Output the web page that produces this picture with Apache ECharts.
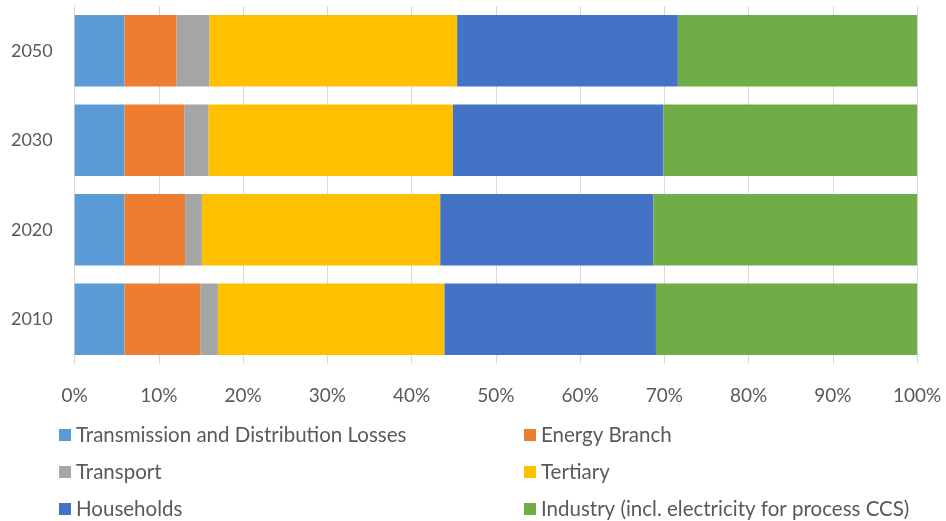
<!DOCTYPE html>
<html>
<head>
<meta charset="utf-8">
<script src="https://cdn.jsdelivr.net/npm/echarts@6/dist/echarts.min.js"></script>
<style>
  html, body { margin: 0; padding: 0; background: #fff; }
  #chart { width: 946px; height: 521px; }
</style>
</head>
<body>
<div id="chart"></div>
<script>
// Share of electricity demand by sector (%), per year
const years = ['2010', '2020', '2030', '2050'];
const lossesTD   = [5.9, 5.9, 5.9, 5.9];
const energyBr   = [9.0, 7.2, 7.1, 6.2];
const transport  = [2.1, 2.0, 2.9, 3.9];
const tertiary   = [26.9, 28.3, 29.0, 29.4];
const households = [25.1, 25.3, 25.0, 26.2];
const industry   = [31.0, 31.3, 30.1, 28.4];
const xTicks = [0, 10, 20, 30, 40, 50, 60, 70, 80, 90, 100];

const seriesDefs = [
  { name: 'Transmission and Distribution Losses', data: lossesTD,   color: '#5B9BD5' },
  { name: 'Energy Branch',                        data: energyBr,   color: '#ED7D31' },
  { name: 'Transport',                            data: transport,  color: '#A5A5A5' },
  { name: 'Tertiary',                             data: tertiary,   color: '#FFC000' },
  { name: 'Households',                           data: households, color: '#4472C4' },
  { name: 'Industry (incl. electricity for process CCS)', data: industry, color: '#70AD47' }
];

const textColor = '#595959';
const fontFamily = 'Lato, "Open Sans", sans-serif';

// two columns of three entries each
const legendBase = {
  orient: 'vertical',
  top: 424,
  bottom: 0,
  padding: 0,
  itemWidth: 12,
  itemHeight: 12,
  itemGap: 15,
  icon: 'rect',
  textStyle: { color: textColor, fontSize: 20.5, fontFamily: fontFamily, lineHeight: 22 }
};

const chart = echarts.init(document.getElementById('chart'), null, { renderer: 'canvas' });
chart.setOption({
  animation: false,
  color: seriesDefs.map(s => s.color),
  grid: { left: 74.7, right: 28.9, top: 6, bottom: 157, containLabel: false },
  xAxis: {
    type: 'value',
    min: xTicks[0],
    max: xTicks[xTicks.length - 1],
    interval: 10,
    axisLine: { show: false },
    axisTick: { show: false },
    splitLine: { show: true, lineStyle: { color: '#d9d9d9', width: 1 } },
    axisLabel: {
      formatter: v => v + '%',
      color: textColor, fontSize: 19, fontFamily: fontFamily, margin: 22
    }
  },
  yAxis: {
    type: 'category',
    data: years,
    axisLine: { show: true, lineStyle: { color: '#d9d9d9' } },
    axisTick: { show: false },
    axisLabel: { color: textColor, fontSize: 18, fontFamily: fontFamily, margin: 22 }
  },
  legend: [
    Object.assign({}, legendBase, {
      left: 59,
      data: [seriesDefs[0].name, seriesDefs[2].name, seriesDefs[4].name]
    }),
    Object.assign({}, legendBase, {
      left: 524,
      data: [seriesDefs[1].name, seriesDefs[3].name, seriesDefs[5].name]
    })
  ],
  series: seriesDefs.map(s => ({
    name: s.name,
    type: 'bar',
    stack: 'total',
    barCategoryGap: '20%',
    data: s.data,
    itemStyle: { color: s.color }
  }))
});
</script>
</body>
</html>
